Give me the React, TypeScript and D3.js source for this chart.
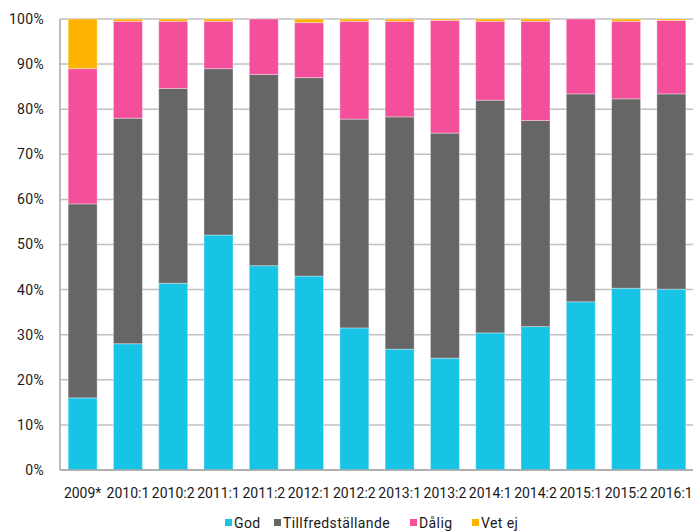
import React from 'react';
import * as d3 from 'd3';

const categories = ['2009*', '2010:1', '2010:2', '2011:1', '2011:2', '2012:1', '2012:2', '2013:1', '2013:2', '2014:1', '2014:2', '2015:1', '2015:2', '2016:1'];
const seriesNames = ['God', 'Tillfredställande', 'Dålig', 'Vet ej'];
const god = [16, 28, 41.4, 52.1, 45.3, 43, 31.5, 26.8, 24.8, 30.4, 31.8, 37.3, 40.3, 40.1];
const tillfreds = [43, 50, 43.2, 36.9, 42.4, 44, 46.3, 51.5, 49.9, 51.6, 45.7, 46.1, 42, 43.3];
const dalig = [30, 21.5, 14.9, 10.5, 12.3, 12.2, 21.7, 21.2, 25, 17.5, 22, 16.6, 17.2, 16.3];
const vetEj = [11, 0.5, 0.5, 0.5, 0, 0.8, 0.5, 0.5, 0.3, 0.5, 0.5, 0, 0.5, 0.3];
const yTicks = [0, 10, 20, 30, 40, 50, 60, 70, 80, 90, 100];
const colors = ['#17c4e5', '#666666', '#f44f9b', '#fdb300'];

const W = 693;
const H = 531;
const margin = { top: 19, right: -1, bottom: 61, left: 60 };
const font = 'Roboto, "DejaVu Sans", sans-serif';

const App = () => {
  const innerW = W - margin.left - margin.right;
  const innerH = H - margin.top - margin.bottom;

  const rows = categories.map((c, i) => ({ cat: c, 0: god[i], 1: tillfreds[i], 2: dalig[i], 3: vetEj[i] }));
  const stack = d3.stack<any>().keys([0, 1, 2, 3] as any)(rows);

  const x = d3.scaleBand().domain(categories).range([0, innerW]).paddingInner(0.36).paddingOuter(0.18);
  const y = d3.scaleLinear().domain([0, 100]).range([innerH, 0]);

  // legend positions
  const legendX = [225, 274, 410, 472];

  return (
    <svg width={W} height={H} style={{ position: 'absolute', left: 0, top: 0, fontFamily: font }}>
      <g transform={`translate(${margin.left},${margin.top})`}>
        {yTicks.map(t => (
          <g key={t}>
            <line x1={0} x2={innerW} y1={y(t)} y2={y(t)} stroke="#c0c0c0" strokeWidth={1.5} />
            <text x={-16} y={y(t)} dy="0.35em" textAnchor="end" fontSize={14} letterSpacing={0.3} fill="#1a1a1a">{t}%</text>
          </g>
        ))}
        {stack.map((s, si) => (
          <g key={si} fill={colors[si]}>
            {s.map((d, i) => (
              d[1] - d[0] > 0 ? (
                <rect key={i}
                  x={x(categories[i])}
                  y={y(d[1])}
                  width={x.bandwidth()}
                  height={y(d[0]) - y(d[1])}
                  stroke="rgba(255,255,255,0.35)"
                  strokeWidth={1}
                />
              ) : null
            ))}
          </g>
        ))}
        <line x1={0} x2={0} y1={0} y2={innerH} stroke="#a6a6a6" strokeWidth={1.5} />
        <line x1={0} x2={innerW} y1={innerH} y2={innerH} stroke="#a6a6a6" strokeWidth={1.5} />
        {categories.map(c => (
          <text key={c} x={(x(c) ?? 0) + x.bandwidth() / 2} y={innerH + 28} textAnchor="middle" fontSize={14} fill="#1a1a1a">{c}</text>
        ))}
      </g>
      {seriesNames.map((n, i) => (
        <g key={n} transform={`translate(${legendX[i]},${523})`}>
          <rect x={0} y={-4} width={7} height={7} fill={colors[i]} />
          <text x={9} y={0} dy="0.35em" fontSize={14} letterSpacing={0.4} fill="#1a1a1a">{n}</text>
        </g>
      ))}
    </svg>
  );
};

export default App;
